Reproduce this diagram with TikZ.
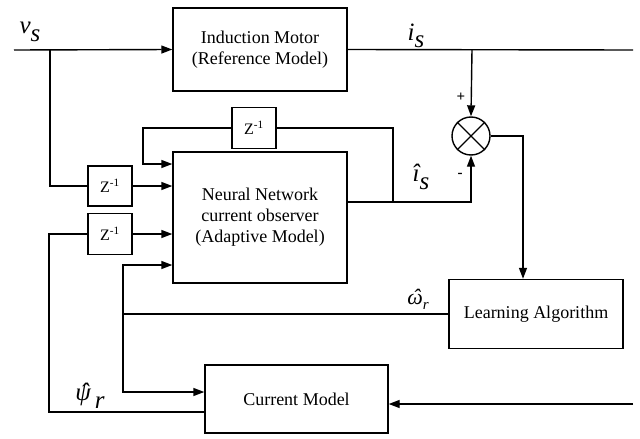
\documentclass[tikz,border=0pt]{standalone}
\usepackage{fontspec}
\setmainfont{Liberation Serif}
\usetikzlibrary{arrows.meta}
\tikzset{
  blk/.style={draw, line width=1.4pt, rectangle, inner sep=0pt, align=center, font=\fontsize{18}{21}\selectfont},
  zbox/.style={draw, line width=1.4pt, rectangle, inner sep=0pt, minimum width=44pt, minimum height=41pt, font=\fontsize{16}{18}\selectfont},
  wire/.style={line width=1.4pt},
  arr/.style={line width=1.4pt, -{Triangle[length=11pt,width=8pt]}},
  lbl/.style={inner sep=0pt, font=\fontsize{25}{27}\selectfont\itshape},
  sgn/.style={inner sep=0pt, font=\fontsize{15}{17}\selectfont\bfseries}
}
\newcommand{\zinv}{Z\textsuperscript{-1}}
\newcommand{\hatch}[1]{\ooalign{#1\cr\hidewidth\kern0.12em ˆ\hidewidth\cr}}
\begin{document}
\begin{tikzpicture}[x=1pt,y=-1pt]
\useasboundingbox (0,0) rectangle (640,439);
% blocks
\node[blk, minimum width=174pt, minimum height=83pt] (im) at (260,49.5) {Induction Motor\\(Reference Model)};
\node[blk, minimum width=174pt, minimum height=131pt] (nn) at (260,217.5) {Neural Network\\current observer\\(Adaptive Model)};
\node[blk, minimum width=174pt, minimum height=69pt] (la) at (536,314) {Learning Algorithm};
\node[blk, minimum width=183pt, minimum height=68pt] (cm) at (296.5,399) {Current Model};
\node[draw, circle, line width=1.4pt, minimum size=38pt, inner sep=0pt] (sum) at (471,136) {};
\draw[line width=1.2pt] (sum.north west) -- (sum.south east) (sum.north east) -- (sum.south west);
\node[zbox] (z1) at (254,128) {\zinv};
\node[zbox, minimum height=40pt] (z2) at (110,186) {\zinv};
\node[zbox] (z3) at (110,234) {\zinv};
% coordinates
\coordinate (vin) at (14,50);
\coordinate (vb) at (50,50);
\coordinate (iout) at (633,50);
\coordinate (ib) at (472,50);
\coordinate (nnout) at (347,202);
\coordinate (fb) at (393,202);
\coordinate (zl) at (143,164);
\coordinate (lx) at (523,0);
\coordinate (wb) at (123,314);
\coordinate (yn) at (0,265);
\coordinate (yc) at (0,392);
\coordinate (psi) at (49,412);
\coordinate (cin) at (633,404);
% connectors
\draw[arr] (vin) -- (im.west);
\draw[wire] (vb) |- (z2.west);
\draw[arr] (z2.east) -- (z2.east -| nn.west);
\draw[wire] (im.east) -- (iout);
\draw[arr] (ib) -- (sum.north);
\draw[arr] (nnout) -| (sum.south);
\draw[wire] (fb) |- (z1.east);
\draw[arr] (z1.west) -| (zl) -- (zl -| nn.west);
\draw[arr] (sum.east) -| (la.north -| lx);
\draw[wire] (la.west) -- (wb);
\draw[arr] (wb) |- (yn -| nn.west);
\draw[arr] (wb) |- (yc -| cm.west);
\draw[arr] (z3.east) -- (z3.east -| nn.west);
\draw[wire] (z3.west) -| (psi) -- (psi -| cm.west);
\draw[arr] (cin) -- (cin -| cm.east);
% labels
\node[lbl] (lv) at (30,32) {v\raisebox{-0.3em}{s}};
\node[lbl] (li) at (416,36) {i\raisebox{-0.3em}{s}};
\node[lbl] (lih) at (421,177) {î\raisebox{-0.3em}{s}};
\node[inner sep=0pt, font=\fontsize{22}{24}\selectfont\itshape] (lw) at (418,302) {\hatch{ω}\raisebox{-0.2em}{\fontsize{15}{17}\selectfont r}};
\node[lbl] (lp) at (90,397) {\hatch{ψ}\,\raisebox{-0.3em}{r}};
\node[sgn] (lplus) at (461,97) {+};
\node[sgn] (lminus) at (460,175) {-};
\end{tikzpicture}
\end{document}
